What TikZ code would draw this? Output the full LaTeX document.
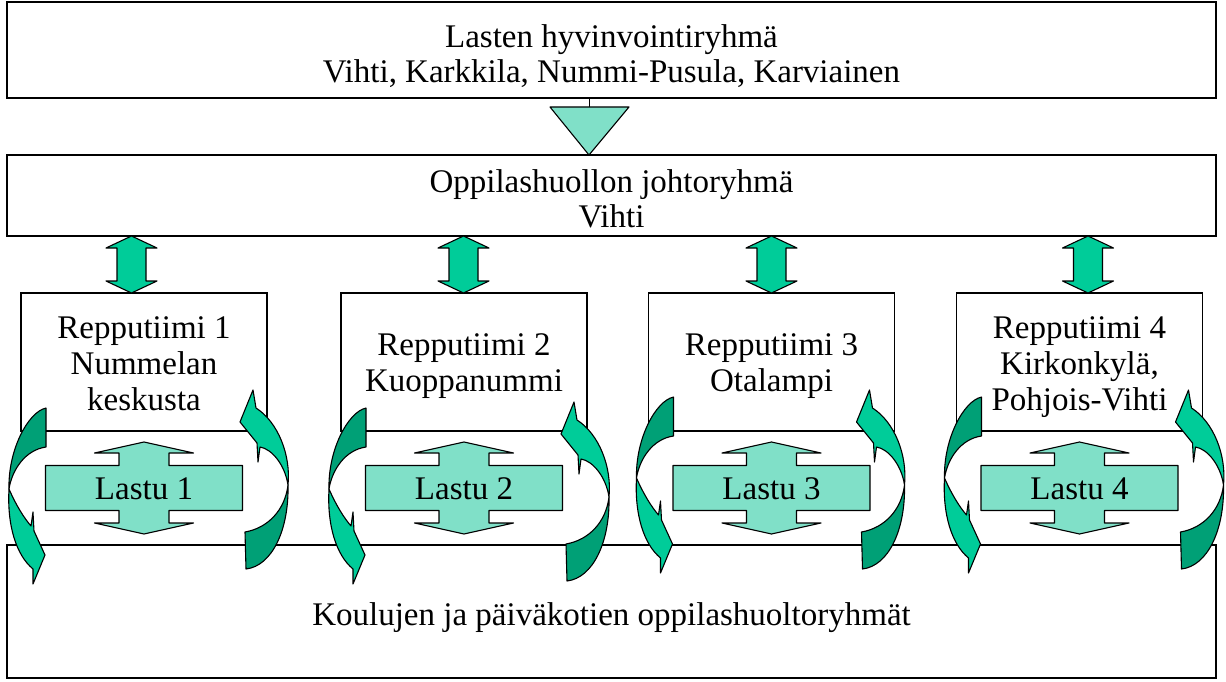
\documentclass[tikz,border=0pt]{standalone}
\usepackage{fontspec}
\setmainfont{Liberation Serif}
\definecolor{aqua}{RGB}{128,224,200}
\definecolor{brightg}{RGB}{0,204,153}
\definecolor{darkg}{RGB}{0,160,118}
\tikzset{
  box/.style={draw=black, line width=1.3pt, fill=white, inner sep=0pt},
  txt/.style={font=\fontsize{33}{36}\selectfont, inner sep=0pt, anchor=base},
  outl/.style={draw=black, line width=1.1pt, line join=round},
  pics/dblarrow/.style={code={
    \draw[outl, fill=brightg] (0,0) -- (25.5,12) -- (14.5,12) -- (14.5,45) -- (25.5,45)
      -- (0,57) -- (-25.5,45) -- (-14.5,45) -- (-14.5,12) -- (-25.5,12) -- cycle;}},
  pics/lastu/.style={code={
    \draw[outl, fill=aqua] (0,-46) -- (49.5,-35) -- (25,-35) -- (25,-22.5) -- (98.5,-22.5)
      -- (98.5,22.5) -- (25,22.5) -- (25,35) -- (49.5,35) -- (0,46) -- (-49.5,35)
      -- (-25,35) -- (-25,22.5) -- (-98.5,22.5) -- (-98.5,-22.5) -- (-25,-22.5)
      -- (-25,-35) -- (-49.5,-35) -- cycle;}},
  pics/leftcurve/.style={code={
    \draw[outl, fill=darkg] (-98,408) .. controls (-116,412) and (-136,450) .. (-135,489)
      .. controls (-132,470) and (-119,450) .. (-98,447) -- cycle;
    \draw[outl, fill=brightg] (-135,489) .. controls (-128,505) and (-120,518) .. (-113,526)
      -- (-111,512) -- (-110,531) -- (-99,555) -- (-111,584) -- (-111,569)
      .. controls (-128,555) and (-137,525) .. (-135,489) -- cycle;}},
  pics/rightcurve/.style={code={
    \draw[outl, fill=brightg] (144,485) .. controls (147,455) and (134,422) .. (112,408)
      -- (109,390) -- (96,422) -- (113,443) -- (114,462) -- (116,447)
      .. controls (128,449) and (141,465) .. (144,485) -- cycle;
    \draw[outl, fill=darkg] (144,485) .. controls (145,530) and (128,566) .. (102,569)
      -- (101,532) .. controls (124,528) and (141,510) .. (144,485) -- cycle;}}
}
\begin{document}
\begin{tikzpicture}[x=1pt,y=-1pt]
\useasboundingbox (0,0) rectangle (1226,682);
% main boxes
\node[box, minimum width=1209pt, minimum height=96pt] (top) at (611.5,50) {};
\node[box, minimum width=1209pt, minimum height=81pt] (mid) at (611.5,195.5) {};
\node[box, minimum width=1209pt, minimum height=133pt] (bot) at (611.5,611.5) {};
\foreach \i/\cx in {1/144,2/464,3/771.5,4/1079.5}
  \node[box, minimum width=246pt, minimum height=138pt] (r\i) at (\cx,362) {};
% texts of main boxes
\node[txt] (topa) at (611.5,48) {Lasten hyvinvointiryhmä};
\node[txt] (topb) at (611.5,83) {Vihti, Karkkila, Nummi-Pusula, Karviainen};
\node[txt] (mida) at (611.5,193) {Oppilashuollon johtoryhmä};
\node[txt] (midb) at (611.5,227) {Vihti};
\node[txt] (bota) at (611.5,625) {Koulujen ja päiväkotien oppilashuoltoryhmät};
% triangle
\coordinate (tri) at (589,107);
\draw[line width=1pt] (top.south -| tri) -- (tri);
\draw[outl, fill=aqua] (550,107) -- (629,107) -- (589,155) -- cycle;
% double arrows
\foreach \x in {131.5,463.5,771.5,1088}
  \pic at (\x,236) {dblarrow};
% repputiimi texts
\node[txt] (r1a) at (144,338) {Repputiimi 1};
\node[txt] (r1b) at (144,374) {Nummelan};
\node[txt] (r1c) at (144,410) {keskusta};
\node[txt] (r2a) at (464,355) {Repputiimi 2};
\node[txt] (r2b) at (464,391) {Kuoppanummi};
\node[txt] (r3a) at (771.5,355) {Repputiimi 3};
\node[txt] (r3b) at (771.5,391) {Otalampi};
\node[txt] (r4a) at (1079.5,338) {Repputiimi 4};
\node[txt] (r4b) at (1079.5,374) {Kirkonkylä,};
\node[txt] (r4c) at (1079.5,410) {Pohjois-Vihti};
% lastu crosses
\foreach \i/\cx in {1/144,2/464,3/771.5,4/1079.5}{
  \pic at (\cx,488) {lastu};
  \node[txt] (l\i) at (\cx,499) {Lastu \i};
}
% curved arrows
\pic at (144,0) {leftcurve};
\pic at (144,0) {rightcurve};
\pic at (464,0) {leftcurve};
\pic at (465,12) {rightcurve};
\pic at (771.5,-11) {leftcurve};
\pic at (760.5,0) {rightcurve};
\pic at (1079.5,-11) {leftcurve};
\pic at (1079.5,0) {rightcurve};
\end{tikzpicture}
\end{document}
